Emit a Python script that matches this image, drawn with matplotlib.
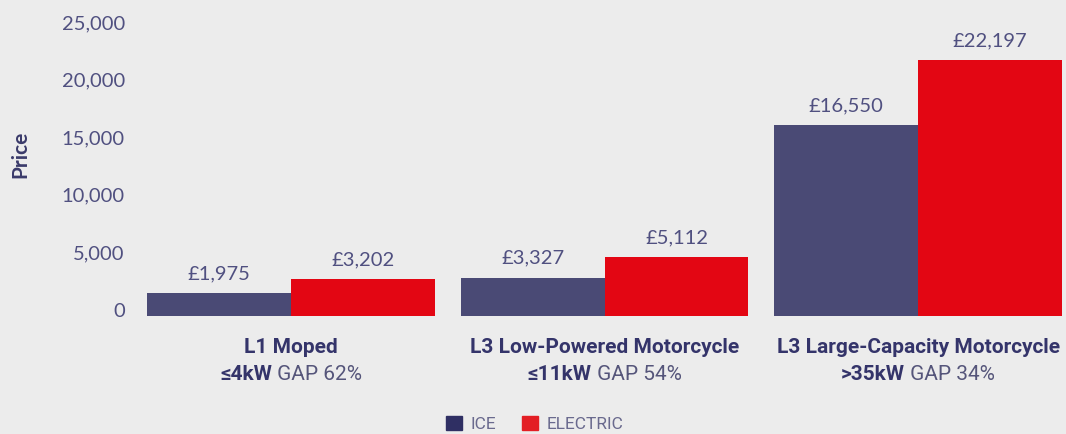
import matplotlib
matplotlib.use("Agg")
import matplotlib.pyplot as plt
from matplotlib.transforms import ScaledTranslation
from matplotlib.patches import Patch
import numpy as np

categories_l1 = ["L1 Moped", "L3 Low-Powered Motorcycle", "L3 Large-Capacity Motorcycle"]
categories_bold = ["≤4kW", "≤11kW", ">35kW"]
categories_gap = [" GAP 62%", " GAP 54%", " GAP 34%"]
ice = [1975, 3327, 16550]
electric = [3202, 5112, 22197]
series_names = ["ICE", "ELECTRIC"]
yticks = [0, 5000, 10000, 15000, 20000, 25000]

BG = "#ececec"
C_ICE = "#4a4a75"
C_EL = "#e30613"
TXT = "#505080"
NUMFONT = ["Lato", "DejaVu Sans"]
CATFONT = ["Roboto", "DejaVu Sans"]

fig = plt.figure(figsize=(10.66, 4.34), dpi=100, facecolor=BG)
ax = fig.add_axes([147/1066, (434-316)/434, (1062-147)/1066, (316-28)/434])
ax.set_facecolor(BG)

x = np.arange(len(ice))
w = 0.459
b1 = ax.bar(x - w/2, ice, width=w, color=C_ICE, linewidth=0)
b2 = ax.bar(x + w/2, electric, width=w, color=C_EL, linewidth=0)
ax.set_xlim(-w, 2 + w)
ax.set_ylim(0, 25000)

for bars, vals in ((b1, ice), (b2, electric)):
    for r, v in zip(bars, vals):
        ax.annotate(f"£{v:,}", (r.get_x() + r.get_width()/2, v), xytext=(0, 10),
                    textcoords="offset points", ha="center", va="baseline",
                    fontsize=14.5, color=TXT, family=NUMFONT)

for s in ax.spines.values():
    s.set_visible(False)
ax.set_xticks([])
ax.set_yticks(yticks)
ax.set_yticklabels([f"{t:,}" for t in yticks], family=NUMFONT,
                   fontsize=14.5, color=TXT)
ax.tick_params(axis="y", length=0, pad=16)
off = ScaledTranslation(0, 6/100, fig.dpi_scale_trans)
for lab in ax.get_yticklabels():
    lab.set_transform(lab.get_transform() + off)

fig.text(20/1066, 1 - 154/434, "Price", rotation=90, ha="center", va="center",
         fontsize=15, fontweight="bold", color="#3a3a6a", family=["Lato", "DejaVu Sans"])

# category labels
renderer = fig.canvas.get_renderer()
CS = 15
for i in range(len(ice)):
    ax.annotate(categories_l1[i], (x[i], 0), xytext=(0, -37), textcoords="offset pixels",
                ha="center", va="baseline", fontsize=CS, fontweight="bold",
                color="#34346a", family=CATFONT)
    tb = ax.annotate(categories_bold[i], (x[i], 0), xytext=(0, -64), textcoords="offset pixels",
                     ha="left", va="baseline", fontsize=CS, fontweight="bold",
                     color="#34346a", family=CATFONT)
    tr = ax.annotate(categories_gap[i], (x[i], 0), xytext=(0, -64), textcoords="offset pixels",
                     ha="left", va="baseline", fontsize=CS, color="#55557a", family=CATFONT)
    wb = tb.get_window_extent(renderer).width
    wr = tr.get_window_extent(renderer).width
    tot = wb + wr
    tb.set_position((-tot/2, -64))
    tr.set_position((-tot/2 + wb, -64))

handles = [Patch(color="#2f2f63"), Patch(color="#e31e24")]
leg = fig.legend(handles, series_names, loc="center", bbox_to_anchor=(535/1066, 1 - 424/434),
                 ncol=2, frameon=False, handlelength=0.9, handleheight=0.9,
                 handletextpad=0.5, columnspacing=1.5, borderpad=0.1,
                 prop={"family": CATFONT, "size": 12.5})
for t in leg.get_texts():
    t.set_color("#6a6a8e")

fig.savefig("out.png", dpi=100, facecolor=BG)
